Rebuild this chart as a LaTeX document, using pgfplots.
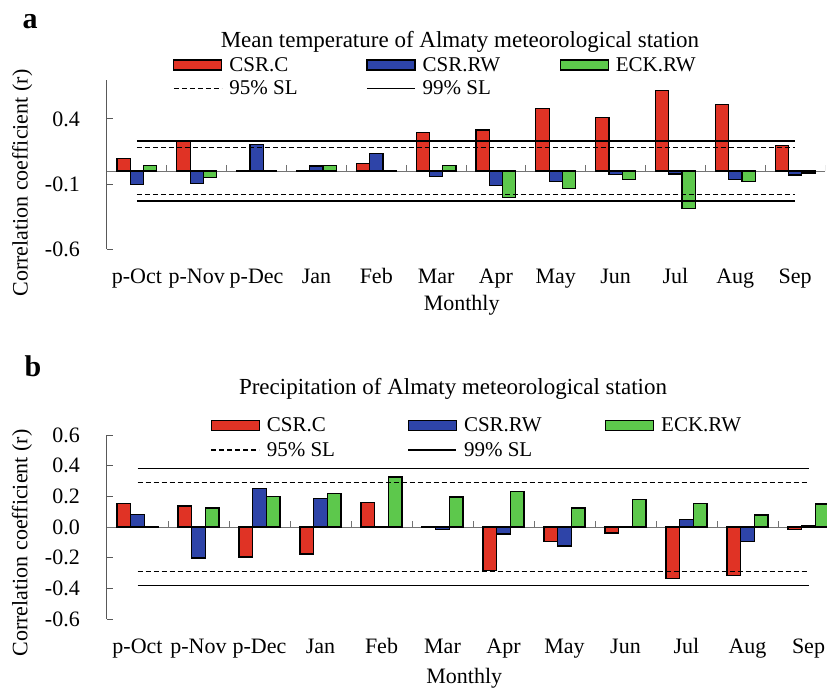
\documentclass[border=0pt]{standalone}
\usepackage{fontspec}
\setmainfont{Liberation Serif}
\usepackage{pgfplots}
\pgfplotsset{compat=1.18}
\usepackage{pgfplotstable}
\definecolor{cred}{HTML}{E03325}
\definecolor{cblue}{HTML}{2E44A8}
\definecolor{cgreen}{HTML}{5DC84C}

\pgfplotstableread{
x red blue green
0 0.094 -0.104 0.043
1 0.232 -0.094 -0.051
2 0.003 0.201 -0.005
3 0.003 0.038 0.043
4 0.056 0.132 0.005
5 0.295 -0.041 0.041
6 0.316 -0.112 -0.206
7 0.478 -0.081 -0.137
8 0.412 -0.028 -0.066
9 0.621 -0.023 -0.290
10 0.509 -0.066 -0.081
11 0.198 -0.031 -0.015
}\dataA

\pgfplotstableread{
x red blue green
0 0.154 0.083 -0.003
1 0.137 -0.202 0.124
2 -0.196 0.252 0.198
3 -0.176 0.185 0.220
4 0.161 -0.003 0.326
5 -0.002 -0.017 0.196
6 -0.285 -0.046 0.233
7 -0.093 -0.124 0.124
8 -0.039 -0.003 0.178
9 -0.337 0.050 0.154
10 -0.317 -0.093 0.078
11 -0.017 0.011 0.150
}\dataB

\newcommand{\tfont}{\fontsize{22}{26}\selectfont}
\newcommand{\lfont}{\fontsize{21}{23}\selectfont}
\newcommand{\LA}[1]{\makebox[138pt][l]{\hspace*{4pt}#1}}
\newcommand{\LB}[1]{\makebox[142pt][l]{\hspace*{4pt}#1}}

\pgfplotsset{
  barleg/.style={legend image code/.code={\draw[##1] (0pt,-5pt) rectangle (48pt,5pt);}},
  lineleg/.style={legend image code/.code={\draw[##1] (0pt,0pt) -- (48pt,0pt);}},
  common/.style={
    scale only axis,
    xmin=-0.5, xmax=11.5,
    axis y line*=left, axis x line*=bottom,
    x axis line style={draw=none},
    y axis line style={black!65, line width=1pt},
    ytick style={black!65, line width=1pt},
    tick align=inside, major tick length=6pt,
    xtick={0,...,11},
    xticklabels={p-Oct,p-Nov,p-Dec,Jan,Feb,Mar,Apr,May,Jun,Jul,Aug,Sep},
    xtick style={draw=none},
    xticklabel style={anchor=base, yshift=-34pt, inner sep=0pt, font=\tfont},
    yticklabel style={anchor=east, xshift=-27pt, inner sep=0pt, font=\tfont},
    /pgf/number format/assume math mode=true,
    label style={font=\tfont},
    ylabel={Correlation coefficient (r)},
    xlabel={Monthly},
    legend columns=3,
    legend cell align=left,
    legend style={draw=none, fill=none, anchor=north west, inner sep=0pt,
      column sep=0pt, font=\lfont,
      nodes={inner xsep=3pt, inner ysep=0pt}},
  },
  bars/.style={ybar, bar width=#1, draw=black, line width=1.2pt, barleg},
}

\begin{document}
\begin{tikzpicture}[x=1pt,y=1pt]

% ---------------- Panel a ----------------
\begin{axis}[common,
  at={(107pt,-249pt)}, anchor=south west,
  width=718pt, height=169pt,
  ymin=-0.6, ymax=0.7,
  ytick={-0.6,-0.1,0.4},
  title={Mean temperature of Almaty meteorological station},
  title style={at={(axis description cs:0.4916,1.155)}, anchor=base, font=\fontsize{23}{27}\selectfont},
  ylabel style={at={(axis description cs:-0.118,0.39)}, anchor=center},
  xlabel style={at={(axis description cs:0.494,-0.33)}, anchor=center},
  legend style={at={(axis description cs:0.0919,1.136)}, row sep=8pt},
  legend entries={\LA{CSR.C},\LA{CSR.RW},\LA{ECK.RW},\LA{95\% SL},\LA{99\% SL}},
]
\addplot[black!55, line width=1pt, forget plot] coordinates {(-0.5,0) (11.5,0)};
\pgfplotsinvokeforeach{0.5,1.5,...,11.5}{
  \draw[black!55, line width=1pt] (axis cs:#1,0) -- ([yshift=6pt]axis cs:#1,0);
}
\addplot[bars=13.3pt, bar shift=-13.3pt, fill=cred] table[x=x,y=red] {\dataA};
\addplot[bars=13.3pt, bar shift=0pt, fill=cblue] table[x=x,y=blue] {\dataA};
\addplot[bars=13.3pt, bar shift=13.3pt, fill=cgreen] table[x=x,y=green] {\dataA};
\addplot[black, line width=1.2pt, dash pattern=on 5pt off 3pt, lineleg] coordinates {(0,0.18) (11,0.18)};
\addplot[black, line width=1.2pt, lineleg] coordinates {(0,0.23) (11,0.23)};
\addplot[black, line width=1.2pt, dash pattern=on 5pt off 3pt, forget plot] coordinates {(0,-0.18) (11,-0.18)};
\addplot[black, line width=1.2pt, forget plot] coordinates {(0,-0.23) (11,-0.23)};
\end{axis}

% ---------------- Panel b ----------------
\begin{axis}[common,
  at={(107pt,-619pt)}, anchor=south west,
  width=732pt, height=184pt,
  ymin=-0.6, ymax=0.6,
  ytick={-0.6,-0.4,...,0.61},
  yticklabel style={/pgf/number format/.cd, fixed, fixed zerofill, precision=1},
  title={Precipitation of Almaty meteorological station},
  title style={at={(axis description cs:0.4727,1.185)}, anchor=base, font=\fontsize{23}{27}\selectfont},
  ylabel style={at={(axis description cs:-0.116,0.413)}, anchor=center},
  xlabel style={at={(axis description cs:0.488,-0.32)}, anchor=center},
  legend style={at={(axis description cs:0.1413,1.094)}, row sep=9pt},
  legend entries={\LB{CSR.C},\LB{CSR.RW},\LB{ECK.RW},\LB{95\% SL},\LB{99\% SL}},
]
\addplot[black!55, line width=1pt, forget plot] coordinates {(-0.5,0) (11.5,0)};
\pgfplotsinvokeforeach{0.5,1.5,...,10.5}{
  \draw[black!55, line width=1pt] (axis cs:#1,0) -- ([yshift=6pt]axis cs:#1,0);
}
\addplot[bars=13.7pt, bar shift=-13.7pt, fill=cred] table[x=x,y=red] {\dataB};
\addplot[bars=13.7pt, bar shift=0pt, fill=cblue] table[x=x,y=blue] {\dataB};
\addplot[bars=13.7pt, bar shift=13.7pt, fill=cgreen] table[x=x,y=green] {\dataB};
\addplot[black, line width=1.2pt, dash pattern=on 5pt off 3pt, lineleg] coordinates {(0,0.29) (11,0.29)};
\addplot[black, line width=1.2pt, lineleg] coordinates {(0,0.38) (11,0.38)};
\addplot[black, line width=1.2pt, dash pattern=on 5pt off 3pt, forget plot] coordinates {(0,-0.29) (11,-0.29)};
\addplot[black, line width=1.2pt, forget plot] coordinates {(0,-0.38) (11,-0.38)};
\end{axis}

\node[font=\fontsize{30}{30}\selectfont\bfseries, anchor=base] at (30pt,-28pt) {a};
\node[font=\fontsize{30}{30}\selectfont\bfseries, anchor=base] at (33pt,-376pt) {b};

\pgfresetboundingbox
\path[use as bounding box] (0pt,0pt) rectangle (827pt,-691pt);
\end{tikzpicture}
\end{document}
